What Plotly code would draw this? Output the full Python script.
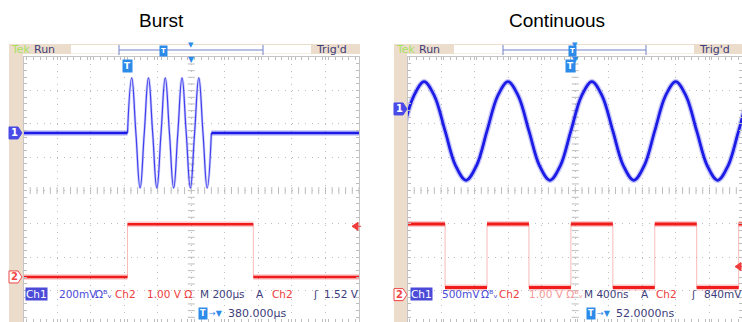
import numpy as np
import plotly.graph_objects as go

W, H = 742, 322

# ---- Burst panel: 200us/div, Ch1 200mV/div, Ch2 1V/div, delay 380us ----
burst_delay = 380.0        # us at screen centre
burst_tdiv = 200.0
burst_ch1_scale, burst_ch1_pos = 0.2, 1.73
burst_ch2_scale, burst_ch2_pos = 1.0, -2.59
burst_trig = 1.52

burst_t = [0, 25, 50, 75, 100, 125, 150, 175, 200, 225, 250,
           275, 300, 325, 350, 375, 400, 425, 450, 475, 500]
burst_v = [0, 0.33, 0, -0.33, 0, 0.33, 0, -0.33, 0, 0.33, 0,
           -0.33, 0, 0.33, 0, -0.33, 0, 0.33, 0, -0.33, 0]
idle_t = [-700, 0, None, 500, 1400]
idle_v = [0, 0, None, 0, 0]
gate_t = [-700, 0, 750, 1400]
gate_v = [0, 1.58, 0, 0]

# ---- Continuous panel: 400ns/div, Ch1 500mV/div, Ch2 1V/div, delay 52ns ----
cont_delay = 52.0
cont_tdiv = 400.0
cont_ch1_scale, cont_ch1_pos = 0.5, 2.45
cont_ch2_scale, cont_ch2_pos = 1.0, -3.12
cont_trig = 0.84

sine_t = [-2000, -1875, -1750, -1625, -1500, -1375, -1250, -1125,
          -1000, -875, -750, -625, -500, -375, -250, -125,
          0, 125, 250, 375, 500, 625, 750, 875,
          1000, 1125, 1250, 1375, 1500, 1625, 1750, 1875,
          2000, 2125, 2250]
sine_v = [-0.33, 0.19, 0.41, 0.19, -0.33, -0.85, -1.07, -0.85,
          -0.33, 0.19, 0.41, 0.19, -0.33, -0.85, -1.07, -0.85,
          -0.33, 0.19, 0.41, 0.19, -0.33, -0.85, -1.07, -0.85,
          -0.33, 0.19, 0.41, 0.19, -0.33, -0.85, -1.07, -0.85,
          -0.33, 0.19, 0.41]
square_t = [-2000, -1500, -1000, -500, 0, 500, 1000, 1500, 2000, 2100]
square_v = [2.12, 0.21, 2.12, 0.21, 2.12, 0.21, 2.12, 0.21, 2.12, 2.12]

# screen geometry (pixels)
GRID_TOP = 57.3
DIVY = 33.33
DIVX = 33.55
L_X0, L_X1 = 23.5, 359.0
R_X0, R_X1 = 407.5, 742.0

BEIGE = "#ecdccb"
DARK = "#3d3d7a"
BLUE_TXT = "#4b4bd8"
RED_TXT = "#f03c3c"
AZURE = "#2c8be8"
GRID = "#bdbdbd"


def px(x):
    return x / W


def py(y):
    return 1 - y / H


ymin = 4 - (H - GRID_TOP) / DIVY


def flats(t, v):
    xs, ys = [], []
    for i in range(len(t) - 1):
        xs += [t[i], t[i + 1], None]
        ys += [v[i], v[i], None]
    return xs, ys


fig = go.Figure()


def line(x, y, xa, ya, color, width, shape="linear", smoothing=1.0):
    fig.add_trace(go.Scatter(x=x, y=y, xaxis=xa, yaxis=ya, mode="lines",
                             line=dict(color=color, width=width, shape=shape,
                                       smoothing=smoothing if shape == "spline" else None),
                             hoverinfo="skip", showlegend=False))


# graticule centre ticks
for xa, ya, delay, tdiv, x0, x1 in [("x", "y", burst_delay, burst_tdiv, L_X0, L_X1),
                                     ("x2", "y2", cont_delay, cont_tdiv, R_X0, R_X1)]:
    xr0 = delay - 5 * tdiv
    xr1 = xr0 + (x1 - x0) / DIVX * tdiv
    xt = np.arange(xr0, xr1 + 1e-6, tdiv / 5)
    fig.add_trace(go.Scatter(x=xt, y=[0] * len(xt), xaxis=xa, yaxis=ya, mode="markers",
                             marker=dict(symbol="line-ns", size=5, line=dict(color=GRID, width=1)),
                             hoverinfo="skip", showlegend=False))
    yt = np.arange(-4, 4.001, 0.2)
    fig.add_trace(go.Scatter(x=[delay] * len(yt), y=yt, xaxis=xa, yaxis=ya, mode="markers",
                             marker=dict(symbol="line-ew", size=5, line=dict(color=GRID, width=1)),
                             hoverinfo="skip", showlegend=False))

# burst panel traces
line(gate_t, gate_v, "x", "y4", "rgba(245,140,140,0.6)", 1, "hv")
fx, fy = flats(gate_t, gate_v)
line(fx, fy, "x", "y4", "rgba(240,40,40,0.25)", 5.5)
line(fx, fy, "x", "y4", "#f01c1c", 2.4)
line(burst_t, burst_v, "x", "y3", "rgba(90,90,240,0.3)", 2.6, "spline", 1.3)
line(burst_t, burst_v, "x", "y3", "#4040ee", 1.2, "spline", 1.3)
line(idle_t, idle_v, "x", "y3", "rgba(30,30,230,0.28)", 5.5)
line(idle_t, idle_v, "x", "y3", "#1c1ce6", 2.4)

# continuous panel traces
line(square_t, square_v, "x2", "y6", "rgba(245,140,140,0.6)", 1, "hv")
fx, fy = flats(square_t, square_v)
line(fx, fy, "x2", "y6", "rgba(240,40,40,0.25)", 6)
line(fx, fy, "x2", "y6", "#f01c1c", 3)
line(sine_t, sine_v, "x2", "y5", "rgba(30,30,230,0.25)", 5.5, "spline")
line(sine_t, sine_v, "x2", "y5", "#1c1ce6", 2.8, "spline")


def xaxis(x0, x1, delay, tdiv):
    r0 = delay - 5 * tdiv
    r1 = r0 + (x1 - x0) / DIVX * tdiv
    return dict(domain=[px(x0), px(x1)], range=[r0, r1], tick0=r0, dtick=tdiv,
                showgrid=True, gridcolor=GRID, griddash="1px,5.7px", gridwidth=1,
                zeroline=False, showticklabels=False, showline=True, linecolor="#c4c4c4",
                mirror="ticks", ticks="inside", ticklen=3, tickcolor=GRID,
                minor=dict(dtick=tdiv / 5, ticks="inside", ticklen=3, tickcolor=GRID, showgrid=False),
                fixedrange=True)


def yaxis(anchor):
    return dict(domain=[0, py(GRID_TOP)], range=[ymin, 4], tick0=0, dtick=1, anchor=anchor,
                showgrid=True, gridcolor=GRID, griddash="1px,5.7px", gridwidth=1,
                zeroline=False, showticklabels=False, showline=True, linecolor="#c4c4c4",
                mirror="ticks", ticks="inside", ticklen=3, tickcolor=GRID,
                minor=dict(dtick=0.2, ticks="inside", ticklen=3, tickcolor=GRID, showgrid=False),
                fixedrange=True)


def chan(base, anchor, scale, pos):
    return dict(overlaying=base, anchor=anchor, visible=False, fixedrange=True,
                range=[(ymin - pos) * scale, (4 - pos) * scale])


fig.update_layout(
    width=W, height=H, margin=dict(l=0, r=0, t=0, b=0),
    paper_bgcolor="white", plot_bgcolor="white", showlegend=False,
    xaxis=xaxis(L_X0, L_X1, burst_delay, burst_tdiv),
    xaxis2=xaxis(R_X0, R_X1, cont_delay, cont_tdiv),
    yaxis=yaxis("x"),
    yaxis2=yaxis("x2"),
    yaxis3=chan("y", "x", burst_ch1_scale, burst_ch1_pos),
    yaxis4=chan("y", "x", burst_ch2_scale, burst_ch2_pos),
    yaxis5=chan("y2", "x2", cont_ch1_scale, cont_ch1_pos),
    yaxis6=chan("y2", "x2", cont_ch2_scale, cont_ch2_pos),
)

shapes = []
annots = []


def rect(x0, y0, x1, y1, fill, line_color=None):
    shapes.append(dict(type="rect", xref="paper", yref="paper", x0=px(x0), x1=px(x1),
                       y0=py(y1), y1=py(y0), fillcolor=fill, layer="above",
                       line=dict(width=1 if line_color else 0, color=line_color or fill)))


def seg(x0, y0, x1, y1, color, width=1):
    shapes.append(dict(type="line", xref="paper", yref="paper", x0=px(x0), x1=px(x1),
                       y0=py(y0), y1=py(y1), line=dict(color=color, width=width), layer="above"))


def text(s, x, y, color, size=11, bg=None, xanchor="left", xref="paper", family="DejaVu Sans"):
    annots.append(dict(text=s, x=px(x) if xref == "paper" else x, xref=xref, y=py(y), yref="paper",
                       xanchor=xanchor, yanchor="middle", showarrow=False,
                       font=dict(family=family, size=size, color=color),
                       bgcolor=bg, borderpad=0))


def tag(label, x, yref, color, filled):
    shapes.append(dict(type="path", xref="paper", yref=yref, xsizemode="pixel", ysizemode="pixel",
                       xanchor=px(x), yanchor=0, path="M0,6 L9,6 L13,0 L9,-6 L0,-6 Z",
                       fillcolor=color if filled else "white", line=dict(color=color, width=1),
                       layer="above"))
    annots.append(dict(text="<b>%s</b>" % label, x=px(x + 5), xref="paper", y=0, yref=yref,
                       xanchor="center", yanchor="middle", showarrow=False,
                       font=dict(family="DejaVu Sans", size=10, color="white" if filled else color)))


def trig_arrow(x, yref, level):
    shapes.append(dict(type="path", xref="paper", yref=yref, xsizemode="pixel", ysizemode="pixel",
                       xanchor=px(x), yanchor=level, path="M0,0 L6,4 L6,-4 Z M6,0 L9,0",
                       fillcolor=RED_TXT, line=dict(color=RED_TXT, width=1), layer="above"))


def tbox(x, y, size=9, xref="paper"):
    annots.append(dict(text="<b>T</b>", x=px(x) if xref == "paper" else x, xref=xref, y=py(y),
                       yref="paper", xanchor="center", yanchor="middle", showarrow=False,
                       font=dict(family="DejaVu Sans", size=size, color="white"),
                       bgcolor=AZURE, borderpad=1))


panels = [
    dict(bx=9, gx=L_X0, gx1=360, wb=(71, 311), br=(119, 263), bt=163, tri=191,
         title="Burst", tx=161, xa="x", delay=burst_delay, ch1="y3", ch2="y4",
         trig=burst_trig, trig_x=352),
    dict(bx=394, gx=R_X0, gx1=742, wb=(454, 694), br=(503, 646), bt=572.7, tri=575,
         title="Continuous", tx=557, xa="x2", delay=cont_delay, ch1="y5", ch2="y6",
         trig=cont_trig, trig_x=735),
]

for p in panels:
    rect(p["bx"], 44, p["gx"] - 0.5, H + 2, BEIGE)
    rect(p["bx"], 44, p["gx1"], 54, BEIGE)
    rect(p["wb"][0], 45, p["wb"][1], 53.5, "white")
    seg(p["br"][0], 50, p["br"][1], 50, "#7080c8")
    seg(p["br"][0], 45, p["br"][0], 55, "#7080c8")
    seg(p["br"][1], 45, p["br"][1], 55, "#7080c8")
    text("▼", p["tri"], 45.5, AZURE, size=7, xanchor="center")
    tbox(p["bt"], 51, size=7)
    text("Tek", p["bx"] + 1, 49, "#a8e060", size=11)
    text("Run", p["bx"] + 24, 49, DARK, size=11)
    text("Trig'd", p["wb"][1] + 4, 49, DARK, size=11)
    text(p["title"], p["tx"], 20, "black", size=19, xanchor="center",
         family="Liberation Sans, Arial")
    # trigger point and horizontal position markers
    text("▼", p["delay"], 59.5, AZURE, size=8, xanchor="center", xref=p["xa"])
    tbox(0, 66, size=9, xref=p["xa"])
    tag("1", p["bx"], p["ch1"], "#4a4ae6", True)
    tag("2", p["bx"], p["ch2"], "#f04646", False)
    trig_arrow(p["trig_x"], p["ch2"], p["trig"])

# readouts
BW = "Ωᴮᵥ"
readout_l = [("Ch1", 25, "white", BLUE_TXT), ("200mV", 58, BLUE_TXT, None), (BW, 94, BLUE_TXT, None),
             ("Ch2", 114, RED_TXT, None), ("1.00 V Ω", 146, RED_TXT, None),
             ("M 200µs", 199, DARK, None), ("A", 255, DARK, None), ("Ch2", 271, RED_TXT, None),
             ("ʃ", 312, DARK, None), ("1.52 V", 323, DARK, None)]
readout_r = [("Ch1", 410, "white", BLUE_TXT), ("500mV", 441, BLUE_TXT, None), (BW, 480, BLUE_TXT, None),
             ("Ch2", 498, RED_TXT, None), ("1.00 V " + BW, 528, "#f59a9a", None),
             ("M 400ns", 583, DARK, None), ("A", 640, DARK, None), ("Ch2", 655, RED_TXT, None),
             ("ʃ", 690, DARK, None), ("840mV", 703, DARK, None)]
for s, x, c, bg in readout_l + readout_r:
    text(s, x, 294, c, size=10.5, bg=bg)

for tx, label in [(200, "380.000µs"), (588, "52.0000ns")]:
    tbox(tx + 3, 313, size=8)
    text("→▼", tx + 8, 313, AZURE, size=8)
    text(label, tx + 27, 313, DARK, size=11)

fig.update_layout(shapes=shapes, annotations=annots)
fig.write_html("out.html", config={"displayModeBar": False},
               post_script="document.body.style.margin='0';")
